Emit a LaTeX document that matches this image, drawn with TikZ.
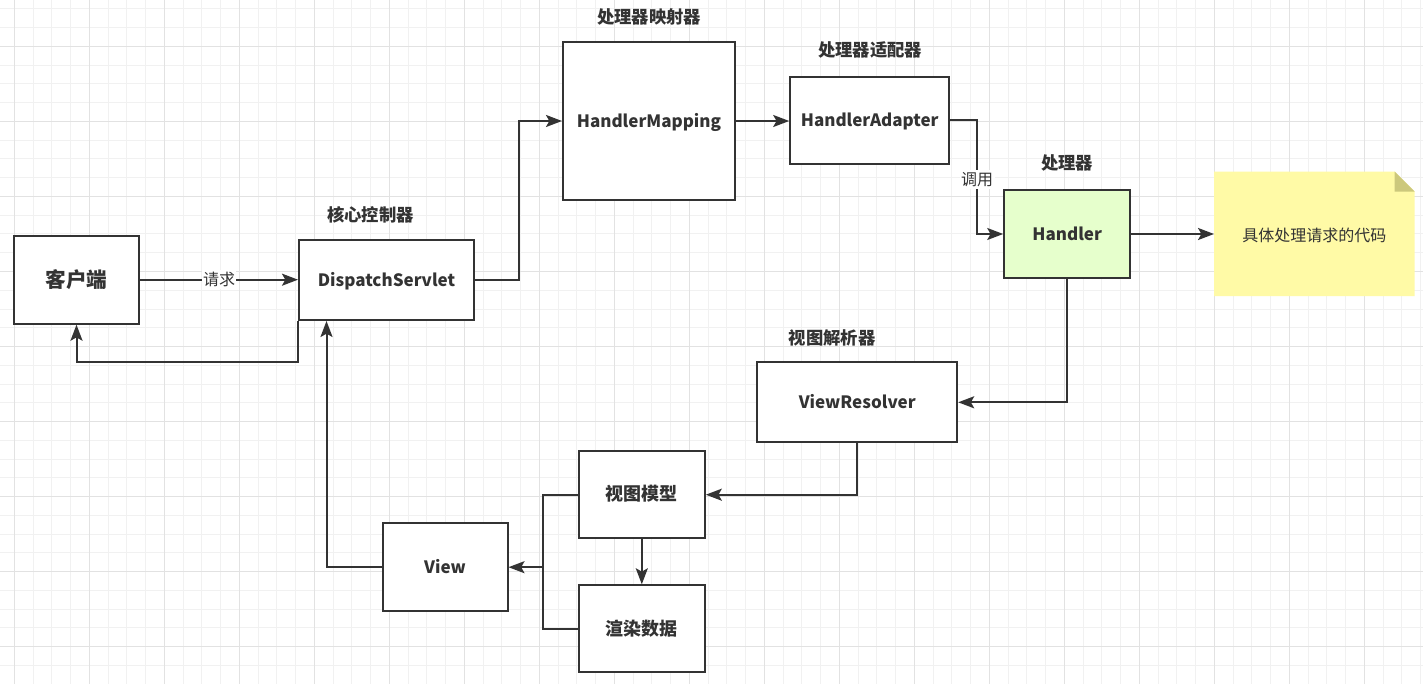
\documentclass[tikz,border=0pt]{standalone}
\usepackage{fontspec}
\setmainfont{Noto Sans CJK SC}
\usetikzlibrary{arrows.meta,calc}
\definecolor{ink}{HTML}{333333}
\definecolor{gminc}{HTML}{F1F1F1}
\definecolor{gmajc}{HTML}{E2E2E2}
\definecolor{hfill}{HTML}{E6FFCC}
\definecolor{notefill}{HTML}{FFFAA6}
\definecolor{foldfill}{HTML}{CCC87C}
\begin{document}
\begin{tikzpicture}[x=0.75pt,y=-0.75pt,
  gmin/.style={draw=gminc,line width=0.75pt},
  gmaj/.style={draw=gmajc,line width=0.75pt},
  wh/.style 2 args={minimum width=#1*0.75pt,minimum height=#2*0.75pt},
  box/.style={draw=ink,line width=1.5pt,fill=white,inner sep=0pt,text=ink,
    font=\bfseries\fontsize{12.75}{15}\selectfont,text height=11pt,text depth=1.7pt},
  ln/.style={draw=ink,line width=1.5pt},
  arr/.style={ln,-{Stealth[length=12pt,width=9pt,inset=2.5pt]}},
  lbl/.style={text=ink,font=\bfseries\fontsize{13}{15}\selectfont,inner sep=0pt,text height=11pt,text depth=1.7pt},
  elbl/.style={fill=white,text=ink,font=\fontsize{12}{14}\selectfont,inner xsep=1pt,inner ysep=1pt,text height=10.5pt,text depth=1.7pt}
]
\useasboundingbox (0,0) rectangle (1423,684);
\begin{scope}
\clip (0,0) rectangle (1423,684);
\fill[white] (0,0) rectangle (1423,684);
\foreach \i in {0,...,76}{\draw[gmin] ({-4.45+18.75*\i},0) -- ++(0,684);}
\foreach \i in {0,...,37}{\draw[gmin] (0,{-9.75+18.75*\i}) -- ++(1423,0);}
\foreach \i in {0,...,19}{\draw[gmaj] ({14.3+75*\i},0) -- ++(0,684);}
\foreach \i in {0,...,9}{\draw[gmaj] (0,{-28.5+75*\i}) -- ++(1423,0);}
\end{scope}

% nodes
\node[box,wh={125}{88},font=\bfseries\fontsize{15.5}{18}\selectfont,text height=13.5pt,text depth=1.7pt] (client) at (76.5,279.7) {客户端};
\node[box,wh={175}{80}] (ds) at (386.5,280) {DispatchServlet};
\node[box,wh={172}{158}] (hm) at (649,121) {HandlerMapping};
\node[box,wh={159}{87}] (ha) at (869.7,120.3) {HandlerAdapter};
\node[box,wh={126}{87},fill=hfill] (handler) at (1067.2,234) {Handler};
\node[inner sep=0pt,wh={200}{124}] (note) at (1314.3,233.8) {};
\node[box,wh={200}{80}] (vr) at (857.2,402.3) {ViewResolver};
\node[box,wh={126}{87},font=\bfseries\fontsize{13.5}{15}\selectfont] (vm) at (641.8,494.7) {视图模型};
\node[box,wh={126}{87},font=\bfseries\fontsize{13.5}{15}\selectfont] (rd) at (641.8,628.8) {渲染数据};
\node[box,wh={125}{88}] (view) at (445,567.2) {View};

% note shape
\fill[notefill] (note.north west) -- ($(note.north east)+(-20,0)$) -- ($(note.north east)+(0,20)$) -- (note.south east) -- (note.south west) -- cycle;
\fill[foldfill] ($(note.north east)+(-20,0)$) -- ($(note.north east)+(0,20)$) -- ($(note.north east)+(-20,20)$) -- cycle;
\node[inner sep=0pt,text=ink,font=\fontsize{12}{14}\selectfont,text height=10.5pt,text depth=1.7pt] (notetext) at ($(note.center)+(0,2)$) {具体处理请求的代码};

% titles
\node[lbl] (t1) at (370.5,215) {核心控制器};
\node[lbl] (t2) at (649,17) {处理器映射器};
\node[lbl] (t3) at (870,50) {处理器适配器};
\node[lbl] (t4) at (1067,163) {处理器};
\node[lbl] (t5) at (832,338.5) {视图解析器};

% connectors
\draw[arr] (client.east) -- node[elbl]{请求} (client.east -| ds.west);
\coordinate (r1) at (76.5,361.7);
\draw[arr] (ds.south west) |- (r1) -- (client.south);
\draw[arr] (view.west) -| ($(ds.south west)+(28.5,0)$);
\draw[arr] (ds.east) -- ++(44.3,0) |- (hm.west);
\draw[arr] (hm.east) -- (hm.east -| ha.west);
\draw[arr] (ha.east) -- ++(27,0) |- node[elbl,pos=0.26]{调用} (handler.west);
\draw[arr] (handler.east) -- (handler.east -| note.west);
\draw[arr] (handler.south) |- (vr.east);
\draw[arr] (vr.south) |- (vm.east);
\draw[arr] (vm.south) -- (rd.north);
\coordinate (j) at (543.3,0 |- view.east);
\draw[ln] (vm.west) -| (j);
\draw[ln] (rd.west) -| (j);
\draw[arr] (j) -- (view.east);
\end{tikzpicture}
\end{document}
